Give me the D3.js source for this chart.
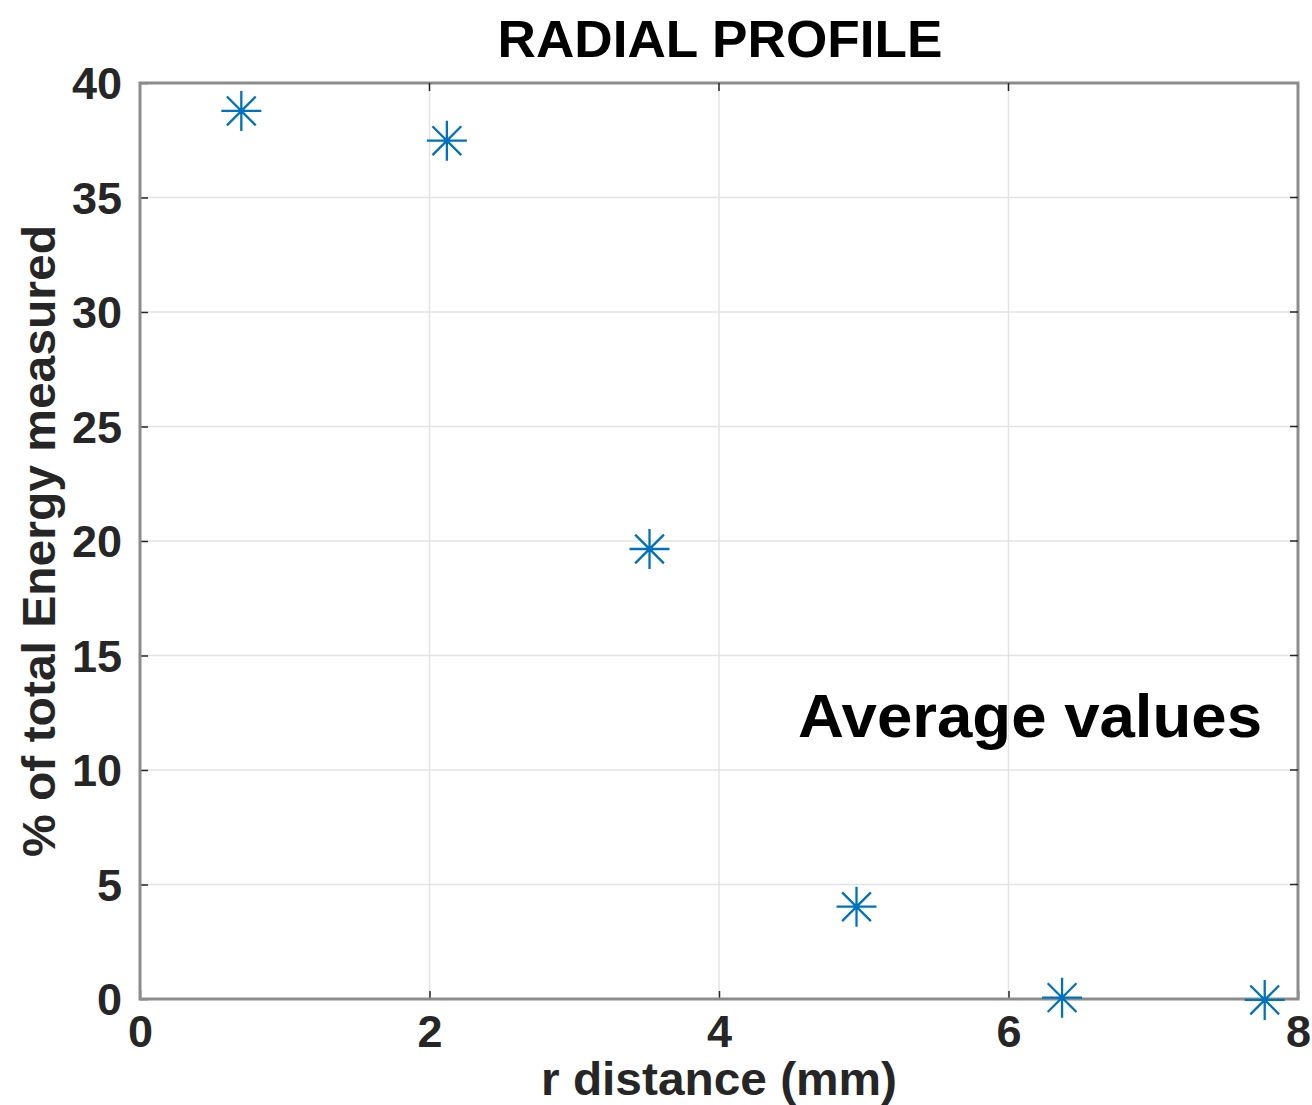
<!DOCTYPE html>
<html>
<head>
<meta charset="utf-8">
<script src="https://cdn.jsdelivr.net/npm/d3@7"></script>
<style>
  body { margin: 0; background: #fff; }
  svg text { font-family: "Liberation Sans", Arial, sans-serif; font-weight: bold; }
</style>
</head>
<body>
<svg></svg>
<script>
// data
const rDistance = [0.70, 2.12, 3.52, 4.95, 6.37, 7.77]
const energyPct = [38.78, 37.48, 19.65, 4.03, 0.06, -0.04]
const xTicks = [0, 2, 4, 6, 8]
const yTicks = [0, 5, 10, 15, 20, 25, 30, 35, 40]

const width = 1312, height = 1105
const margin = {top: 83, right: 14, bottom: 106, left: 140}

const svg = d3.select("svg")
    .attr("width", width)
    .attr("height", height)

const x = d3.scaleLinear().domain([0, 8]).range([margin.left, width - margin.right])
const y = d3.scaleLinear().domain([0, 40]).range([height - margin.bottom, margin.top])

const textColor = "#262626"

// grid
svg.append("g")
  .selectAll("line.vgrid")
  .data(xTicks.slice(1, -1))
  .join("line")
    .attr("x1", d => x(d)).attr("x2", d => x(d))
    .attr("y1", y(0)).attr("y2", y(40))
    .attr("stroke", "#e3e3e3").attr("stroke-width", 1.5)

svg.append("g")
  .selectAll("line.hgrid")
  .data(yTicks.slice(1, -1))
  .join("line")
    .attr("x1", x(0)).attr("x2", x(8))
    .attr("y1", d => y(d)).attr("y2", d => y(d))
    .attr("stroke", "#e3e3e3").attr("stroke-width", 1.5)

// axes, ticks pointing inward
const xAxis = svg.append("g")
    .attr("transform", `translate(0,${y(0)})`)
    .call(d3.axisBottom(x).tickValues(xTicks).tickSize(-8).tickPadding(16).tickSizeOuter(0))
const yAxis = svg.append("g")
    .attr("transform", `translate(${x(0)},0)`)
    .call(d3.axisLeft(y).tickValues(yTicks).tickSize(-8).tickPadding(18).tickSizeOuter(0))

for (const ax of [xAxis, yAxis]) {
  ax.select(".domain").remove()
  ax.selectAll(".tick line").attr("stroke", textColor).attr("stroke-width", 1.5)
  ax.selectAll(".tick text").attr("fill", textColor).style("font-size", "45px")
}
xAxis.selectAll(".tick text").attr("dy", "0.71em")
yAxis.selectAll(".tick text").attr("dy", "0.35em")

// box
svg.append("rect")
    .attr("x", x(0)).attr("y", y(40))
    .attr("width", x(8) - x(0)).attr("height", y(0) - y(40))
    .attr("fill", "none").attr("stroke", "#8c8c8c").attr("stroke-width", 3)

// top / right ticks
svg.append("g").selectAll("line")
  .data(xTicks.slice(1, -1))
  .join("line")
    .attr("x1", d => x(d)).attr("x2", d => x(d))
    .attr("y1", y(40)).attr("y2", y(40) + 8)
    .attr("stroke", textColor).attr("stroke-width", 1.5)
svg.append("g").selectAll("line")
  .data(yTicks.slice(1, -1))
  .join("line")
    .attr("x1", x(8)).attr("x2", x(8) - 8)
    .attr("y1", d => y(d)).attr("y2", d => y(d))
    .attr("stroke", textColor).attr("stroke-width", 1.5)

// asterisk markers
const r = 20, rd = r * 0.72
const star = `M${-r},0H${r}M0,${-r}V${r}M${-rd},${-rd}L${rd},${rd}M${-rd},${rd}L${rd},${-rd}`
svg.append("g")
  .selectAll("path")
  .data(rDistance.map((d, i) => [d, energyPct[i]]))
  .join("path")
    .attr("transform", d => `translate(${x(d[0])},${y(d[1])})`)
    .attr("d", star)
    .attr("fill", "none")
    .attr("stroke", "#0072BD")
    .attr("stroke-width", 2.3)

// labels
svg.append("text")
    .attr("x", 720).attr("y", 57)
    .attr("text-anchor", "middle")
    .attr("fill", "#000")
    .style("font-size", "51px")
    .attr("textLength", 445).attr("lengthAdjust", "spacingAndGlyphs")
    .text("RADIAL PROFILE")

svg.append("text")
    .attr("x", 719).attr("y", 1095)
    .attr("text-anchor", "middle")
    .attr("fill", textColor)
    .style("font-size", "47px")
    .attr("textLength", 356).attr("lengthAdjust", "spacingAndGlyphs")
    .text("r distance (mm)")

svg.append("text")
    .attr("transform", `translate(55,541) rotate(-90)`)
    .attr("text-anchor", "middle")
    .attr("fill", textColor)
    .style("font-size", "47px")
    .attr("textLength", 632).attr("lengthAdjust", "spacingAndGlyphs")
    .text("% of total Energy measured")

svg.append("text")
    .attr("x", 798).attr("y", 737)
    .attr("fill", "#000")
    .style("font-size", "62px")
    .attr("textLength", 464).attr("lengthAdjust", "spacingAndGlyphs")
    .text("Average values")
</script>
</body>
</html>
